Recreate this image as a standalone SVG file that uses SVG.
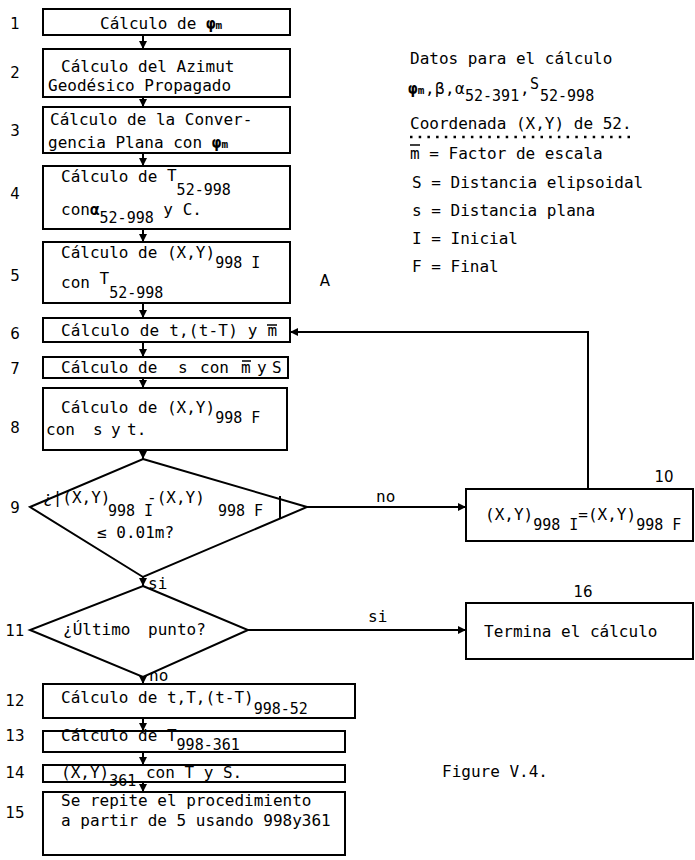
<svg xmlns="http://www.w3.org/2000/svg" width="695" height="860" viewBox="0 0 695 860">
<style>
.t{font-family:"DejaVu Sans Mono","Liberation Mono",monospace;font-size:16px;fill:#000}
.s{font-size:15px}
.sm{font-size:11px;font-weight:bold}
.bd{font-weight:bold}
.n{font-family:"DejaVu Sans","Liberation Sans",sans-serif;font-size:15px;fill:#000;text-anchor:middle}
.b{fill:#fff;stroke:#000;stroke-width:2}
.c{fill:none;stroke:#000;stroke-width:2}
.ol{stroke:#000;stroke-width:1.5}
</style>
<defs>
<marker id="ah" viewBox="0 0 10 10" refX="10" refY="5" markerWidth="8" markerHeight="8" markerUnits="userSpaceOnUse" orient="auto">
<path d="M0,0 L10,5 L0,10 z" fill="#000"/>
</marker>
</defs>
<rect width="695" height="860" fill="#fff"/>

<g id="connectors">
<line class="c" x1="143" y1="35" x2="143" y2="49" marker-end="url(#ah)"/>
<line class="c" x1="143" y1="97" x2="143" y2="107" marker-end="url(#ah)"/>
<line class="c" x1="143" y1="153" x2="143" y2="166" marker-end="url(#ah)"/>
<line class="c" x1="143" y1="229" x2="143" y2="242" marker-end="url(#ah)"/>
<line class="c" x1="143" y1="303" x2="143" y2="318" marker-end="url(#ah)"/>
<line class="c" x1="143" y1="342" x2="143" y2="357" marker-end="url(#ah)"/>
<line class="c" x1="143" y1="378" x2="143" y2="388" marker-end="url(#ah)"/>
<line class="c" x1="143" y1="450" x2="143" y2="459" marker-end="url(#ah)"/>
<line class="c" x1="143" y1="577" x2="143" y2="586" marker-end="url(#ah)"/>
<line class="c" x1="143" y1="677" x2="143" y2="684" marker-end="url(#ah)"/>
<line class="c" x1="143" y1="718" x2="143" y2="731" marker-end="url(#ah)"/>
<line class="c" x1="143" y1="752" x2="143" y2="765" marker-end="url(#ah)"/>
<line class="c" x1="143" y1="782" x2="143" y2="792" marker-end="url(#ah)"/>
<line class="c" x1="307" y1="507" x2="466" y2="507" marker-end="url(#ah)"/>
<line class="c" x1="248" y1="630" x2="466" y2="630" marker-end="url(#ah)"/>
<polyline class="c" points="588,489 588,332 290,332" marker-end="url(#ah)"/>
<text class="t" x="376" y="502">no</text>
<text class="t" x="368" y="622">si</text>
<text class="t" x="148" y="589">si</text>
<text class="t" x="149" y="681" font-size="15">no</text>
</g>

<g id="n1">
<rect class="b" x="43" y="9" width="247" height="26"/>
<text class="t" x="100" y="29">Cálculo de <tspan class="bd">φ</tspan><tspan class="sm">m</tspan></text>
<text class="n" x="15" y="29">1</text>
</g>
<g id="n2">
<rect class="b" x="43" y="49" width="247" height="48"/>
<text class="t" x="61" y="72">Cálculo del Azimut</text>
<text class="t" x="48" y="91">Geodésico Propagado</text>
<text class="n" x="15" y="78">2</text>
</g>
<g id="n3">
<rect class="b" x="43" y="107" width="247" height="46"/>
<text class="t" x="50" y="125">Cálculo de la Conver-</text>
<text class="t" x="48" y="148">gencia Plana con <tspan class="bd">φ</tspan><tspan class="sm">m</tspan></text>
<text class="n" x="15" y="136">3</text>
</g>
<g id="n4">
<rect class="b" x="43" y="166" width="247" height="63"/>
<text class="t" x="61" y="182">Cálculo de <tspan y="181">T</tspan><tspan class="s" y="195">52-998</tspan></text>
<text class="t" x="61" y="215">con<tspan class="bd">α</tspan><tspan class="s" y="223">52-998</tspan><tspan y="215"> y C.</tspan></text>
<text class="n" x="15" y="199">4</text>
</g>
<g id="n5">
<rect class="b" x="43" y="242" width="247" height="61"/>
<text class="t" x="61" y="258">Cálculo de (X,Y)<tspan class="s" y="268">998 I</tspan></text>
<text class="t" x="61" y="288">con <tspan y="284">T</tspan><tspan class="s" y="298">52-998</tspan></text>
<text class="n" x="15" y="281">5</text>
</g>
<g id="n6">
<rect class="b" x="43" y="318" width="247" height="24"/>
<text class="t" x="61" y="336" letter-spacing="0.2">Cálculo de t,(t-T) y m</text>
<line class="ol" x1="267" y1="325" x2="277" y2="325"/>
<text class="n" x="15" y="339">6</text>
</g>
<g id="n7">
<rect class="b" x="43" y="357" width="245" height="21"/>
<text class="t" x="61" y="373">Cálculo de <tspan x="178">s</tspan><tspan x="200">con</tspan><tspan x="241">m</tspan><tspan x="257">y</tspan><tspan x="272">S</tspan></text>
<line class="ol" x1="242" y1="361" x2="251" y2="361"/>
<text class="n" x="15" y="374">7</text>
</g>
<g id="n8">
<rect class="b" x="43" y="388" width="244" height="62"/>
<text class="t" x="61" y="413">Cálculo de (X,Y)<tspan class="s" y="423">998 F</tspan></text>
<text class="t" x="46" y="435">con<tspan x="93">s</tspan><tspan x="111">y</tspan><tspan x="127">t.</tspan></text>
<text class="n" x="15" y="433">8</text>
</g>
<g id="n9">
<polygon class="b" points="143,459 307,507 143,577 30,507"/>
<text class="t" x="43" y="503">¿|(X,Y)<tspan class="s" x="108" y="516">998 I</tspan><tspan x="147" y="503">-(X,Y)</tspan><tspan class="s" x="218" y="516">998 F</tspan></text>
<line class="c" x1="280" y1="496" x2="280" y2="518"/>
<text class="t" x="97" y="538">≤ 0.01m?</text>
<text class="n" x="15" y="513">9</text>
</g>
<g id="n10">
<rect class="b" x="466" y="489" width="227" height="52"/>
<text class="t" x="485" y="520">(X,Y)<tspan class="s" y="530">998 I</tspan><tspan y="520">=(X,Y)</tspan><tspan class="s" y="530">998 F</tspan></text>
<text class="n" x="664" y="482">10</text>
</g>
<g id="n11">
<polygon class="b" points="143,586 248,630 143,677 30,630"/>
<text class="t" x="63" y="635">¿Último<tspan x="148">punto?</tspan></text>
<text class="n" x="15" y="636">11</text>
</g>
<g id="n12">
<rect class="b" x="43" y="684" width="312" height="34"/>
<text class="t" x="61" y="703">Cálculo de t,T,(t-T)<tspan class="s" y="714">998-52</tspan></text>
<text class="n" x="15" y="706">12</text>
</g>
<g id="n13">
<rect class="b" x="43" y="731" width="302" height="21"/>
<text class="t" x="61" y="741">Cálculo de T<tspan class="s" y="750">998-361</tspan></text>
<text class="n" x="15" y="741">13</text>
</g>
<g id="n14">
<rect class="b" x="43" y="765" width="302" height="17"/>
<text class="t" x="61" y="778">(X,Y)<tspan class="s" y="786">361</tspan><tspan y="778"> con T y S.</tspan></text>
<text class="n" x="15" y="778">14</text>
</g>
<g id="n15">
<rect class="b" x="43" y="792" width="302" height="63"/>
<text class="t" x="61" y="806">Se repite el procedimiento</text>
<text class="t" x="61" y="826">a partir de 5 usando 998y361</text>
<text class="n" x="15" y="818">15</text>
</g>
<g id="n16">
<rect class="b" x="466" y="603" width="227" height="56"/>
<text class="t" x="484" y="637">Termina el cálculo</text>
<text class="n" x="583" y="597">16</text>
</g>

<g id="legend">
<text class="t" x="410" y="64">Datos para el cálculo</text>
<text class="t" x="408" y="94"><tspan class="bd">φ</tspan><tspan class="sm">m</tspan><tspan x="425">,</tspan><tspan x="435">β</tspan><tspan x="445">,</tspan><tspan x="455">α</tspan><tspan class="s" x="465" y="101">52-391</tspan><tspan x="520" y="94">,</tspan><tspan class="s" x="530" y="89">S</tspan><tspan class="s" x="540" y="101">52-998</tspan></text>
<text class="t" x="410" y="129">Coordenada (X,Y) de 52.</text>
<line x1="410" y1="137" x2="632" y2="137" stroke="#000" stroke-width="2.5" stroke-dasharray="2.5 6.2"/>
<text class="t" x="410" y="159">m = Factor de escala</text>
<line class="ol" x1="410" y1="145" x2="420" y2="145"/>
<text class="t" x="412" y="188">S = Distancia elipsoidal</text>
<text class="t" x="412" y="216">s = Distancia plana</text>
<text class="t" x="412" y="244">I = Inicial</text>
<text class="t" x="412" y="272">F = Final</text>
<text class="n" x="325" y="286">A</text>
<text class="t" x="442" y="777">Figure V.4.</text>
</g>
</svg>
